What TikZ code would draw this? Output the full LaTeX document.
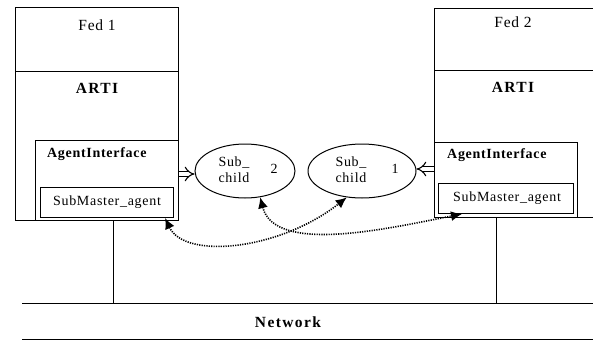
\documentclass[tikz,border=0pt]{standalone}
\usepackage{fontspec}
\setmainfont{Liberation Serif}
\newfontfamily\lblfont[LetterSpace=5]{Liberation Serif}
\newfontfamily\widefont[LetterSpace=9]{Liberation Serif}
\usetikzlibrary{arrows.meta,shapes.geometric,calc}

\tikzset{
  frame/.style={draw, line width=1pt, inner sep=0pt, anchor=north west},
  lbl/.style={inner sep=0pt, font=\lblfont\fontsize{14}{16}\selectfont},
  head/.style={inner sep=0pt, font=\widefont\bfseries\fontsize{15.5}{17}\selectfont},
  fedlbl/.style={inner sep=0pt, font=\lblfont\fontsize{15.5}{17}\selectfont},
  subnode/.style={draw, ellipse, line width=1pt, minimum height=54pt, inner sep=0pt},
  plug/.style={double, double distance=4pt, line width=1.1pt, -{Implies}},
  msg/.style={line width=1.6pt, dash pattern=on 1.2pt off 1.2pt,
              {Latex[length=11pt,width=10pt]}-{Latex[length=11pt,width=10pt]}},
  wire/.style={line width=1pt}
}

\begin{document}
\begin{tikzpicture}[x=1pt, y=-1pt]
\useasboundingbox (0,0) rectangle (593,340);

% ---- federate 1 ----
\node[frame, minimum width=163pt, minimum height=213pt] (fed1) at (15,7) {};
\draw[wire] (15,71) -- (178,71);
\node[fedlbl] (fed1name) at (97,25) {Fed 1};
\node[head] (arti1) at (97,88) {ARTI};
\node[frame, minimum width=143pt, minimum height=80pt] (ag1) at (35,140) {};
\node[lbl, font=\lblfont\bfseries\fontsize{14}{16}\selectfont, anchor=west] (ag1name) at (47,154) {AgentInterface};
\node[frame, minimum width=133pt, minimum height=30pt, anchor=north west] (sm1) at (40,187) {};
\node[lbl] (sm1name) at (107,202) {SubMaster\_agent};

% ---- federate 2 (runs off the right edge) ----
\draw[wire] (593,8) -- (434,8) -- (434,217) -- (593,217);
\draw[wire] (434,70) -- (593,70);
\node[fedlbl] (fed2name) at (513,22) {Fed 2};
\node[head] (arti2) at (513,87) {ARTI};
\node[frame, minimum width=143pt, minimum height=75pt] (ag2) at (434,142) {};
\node[lbl, font=\lblfont\bfseries\fontsize{14}{16}\selectfont, anchor=west] (ag2name) at (447,155) {AgentInterface};
\node[frame, minimum width=135pt, minimum height=30pt] (sm2) at (438,183) {};
\node[lbl] (sm2name) at (507,198) {SubMaster\_agent};

% ---- sub-child agents ----
\node[subnode, minimum width=100pt] (e2) at (245,171) {};
\node[lbl, align=left] (e2name) at (234,170) {Sub\_\\child};
\node[lbl] (e2num) at (274,169) {2};
\node[subnode, minimum width=108pt] (e1) at (362,171) {};
\node[lbl, align=left] (e1name) at (351,170) {Sub\_\\child};
\node[lbl] (e1num) at (395,169) {1};

\draw[plug] (ag1.east |- 0,174) -- (e2.west |- 0,174);
\draw[plug] (ag2.west |- 0,169) -- (e1.east |- 0,169);

% ---- messages between sub-masters and children ----
\draw[msg] ($(sm1.south west)+(125,0)$) .. controls (185,260) and (280,250) .. (e1.240);
\draw[msg] (e2.300) .. controls (275,255) and (390,228) .. ($(sm2.south west)+(24,0)$);

% ---- network ----
\coordinate (net1) at (113,303);
\coordinate (net2) at (496,303);
\draw[wire] (22,303) -- (593,303);
\draw[wire] (22,339) -- (593,339);
\draw[wire] (fed1.south -| net1) -- (net1);
\draw[wire] (ag2.south -| net2) -- (net2);
\node[head] (netname) at (288,322) {Network};
\end{tikzpicture}
\end{document}
